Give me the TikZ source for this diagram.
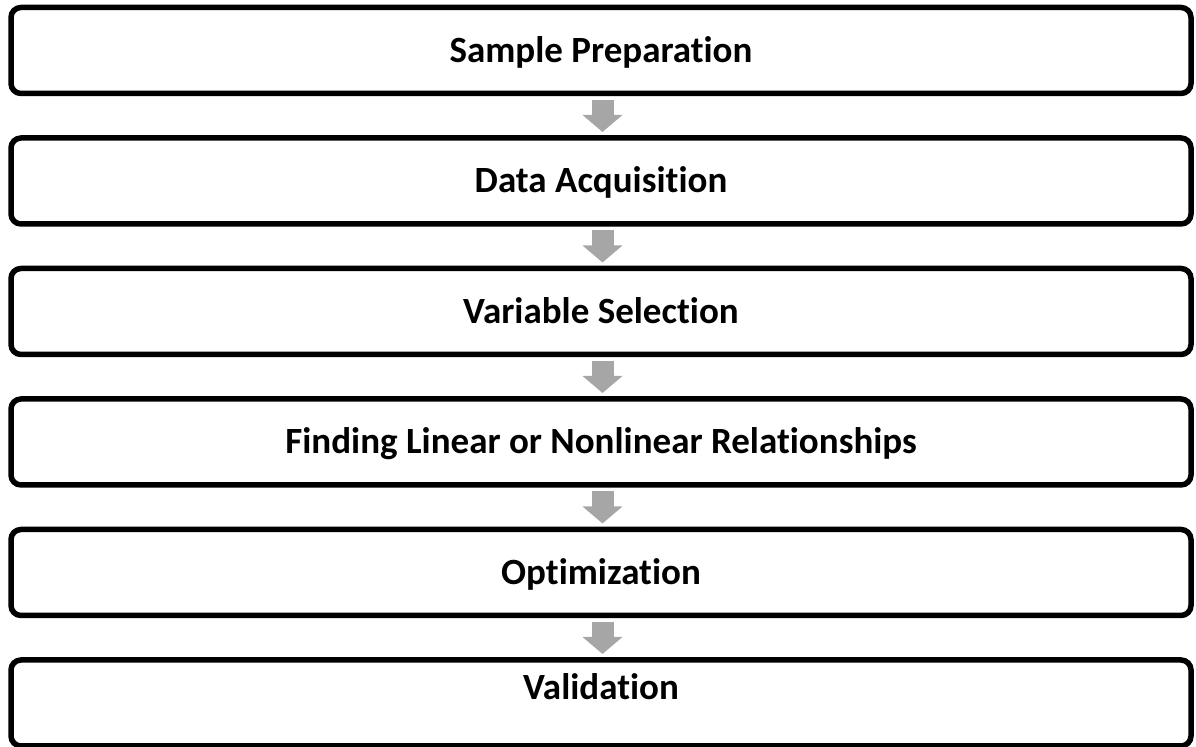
\documentclass[tikz,border=0pt]{standalone}
\usepackage{fontspec}
\setmainfont{Carlito}[Ligatures=NoCommon]
\usepackage{tikz}
\usetikzlibrary{positioning, arrows.meta}
\definecolor{arrowgray}{RGB}{166,166,166}
\tikzset{
  node distance=22.25pt,
  stepbox/.style={draw, line width=2.75pt, rounded corners=5pt, outer sep=0pt,
    minimum width=590pt, minimum height=43pt, inner sep=0pt,
    font=\fontsize{18.5}{22}\selectfont\bfseries, text height=11.9pt, text depth=0pt},
  flow/.style={draw=arrowgray, line width=11pt,
    -{Triangle[length=8.5pt, width=19.5pt, color=arrowgray]}},
}

\begin{document}
\begin{tikzpicture}
        \useasboundingbox (0,0) rectangle (598pt,-373.5pt);

        % steps
        \node[stepbox] (prep) at (300.5pt,-25.25pt) {Sample Preparation};
        \node[stepbox, below=of prep] (acq) {Data Acquisition};
        \node[stepbox, below=of acq] (sel) {Variable Selection};
        \node[stepbox, below=of sel] (rel) {Finding Linear or Nonlinear Relationships};
        \node[stepbox, below=of rel] (opt) {Optimization};
        \node[stepbox, below=of opt, text depth=15pt] (val) {Validation};

        % arrows
        \foreach \a/\b in {prep/acq, acq/sel, sel/rel, rel/opt, opt/val}
          \draw[flow] ([xshift=0.75pt, yshift=-3.25pt]\a.south) -- ([xshift=0.75pt, yshift=3pt]\b.north);

\end{tikzpicture}
\end{document}
